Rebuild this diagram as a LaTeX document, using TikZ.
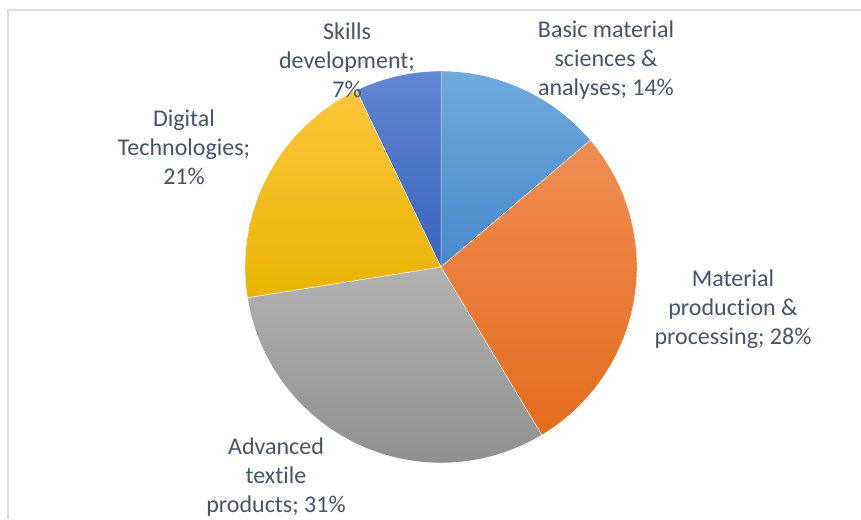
\documentclass[tikz,border=0pt]{standalone}
\usepackage{fontspec}
\setmainfont[RawFeature={-liga;-clig;-calt;-dlig}]{Carlito}
\usepackage{tikz}
\usetikzlibrary{calc}

\definecolor{labeltext}{HTML}{44546A}
\definecolor{framegray}{HTML}{D9DDE3}

\tikzset{
    slice/.style={draw=white, line width=0.4pt},
    sliceBasic/.style={slice, top color={rgb,255:red,112;green,169;blue,220}, middle color={rgb,255:red,91;green,155;blue,213}, bottom color={rgb,255:red,72;green,137;blue,202}},
    sliceMaterial/.style={slice, top color={rgb,255:red,240;green,141;blue,84}, middle color={rgb,255:red,243;green,124;blue,42}, bottom color={rgb,255:red,228;green,108;blue,28}},
    sliceAdvanced/.style={slice, top color={rgb,255:red,178;green,178;blue,178}, middle color={rgb,255:red,165;green,165;blue,165}, bottom color={rgb,255:red,142;green,142;blue,142}},
    sliceDigital/.style={slice, top color={rgb,255:red,255;green,197;blue,60}, middle color={rgb,255:red,255;green,192;blue,0}, bottom color={rgb,255:red,232;green,180;blue,0}},
    sliceSkills/.style={slice, top color={rgb,255:red,97;green,135;blue,207}, middle color={rgb,255:red,68;green,114;blue,196}, bottom color={rgb,255:red,56;green,100;blue,190}},
    pielabel/.style={align=center, text=labeltext, font=\fontsize{24}{29}\selectfont}
}

\begin{document}
\begin{tikzpicture}[x=1pt, y=1pt]
            \useasboundingbox (0,0) rectangle (861,519);
            \def\r{196}  % radius of the pie

            % Draw frame
            \draw[framegray, line width=1.5pt] (8,0) -- (8,509) -- (861,509);

            \coordinate (C) at (441,252);

            % Draw slices, clockwise from the top
            \foreach \from/\to/\kind in {0/13.8/sliceBasic, 13.8/41.4/sliceMaterial, 41.4/72.5/sliceAdvanced, 72.5/92.9/sliceDigital, 92.9/100/sliceSkills} {
                \path[\kind] (C) -- ++({90-3.6*\from}:\r) arc[start angle={90-3.6*\from}, end angle={90-3.6*\to}, radius=\r] -- cycle;
            }

            % Draw labels
            \node[pielabel] (basic) at (606,459) {Basic material\\sciences \&\\analyses; 14\%};
            \node[pielabel] (material) at (733,210) {Material\\production \&\\processing; 28\%};
            \node[pielabel] (advanced) at (276,42) {Advanced\\textile\\products; 31\%};
            \node[pielabel] (digital) at (184,372) {Digital\\Technologies;\\21\%};
            \node[pielabel] (skills) at (347,459) {Skills\\development;\\7\%};
        \end{tikzpicture}
\end{document}
